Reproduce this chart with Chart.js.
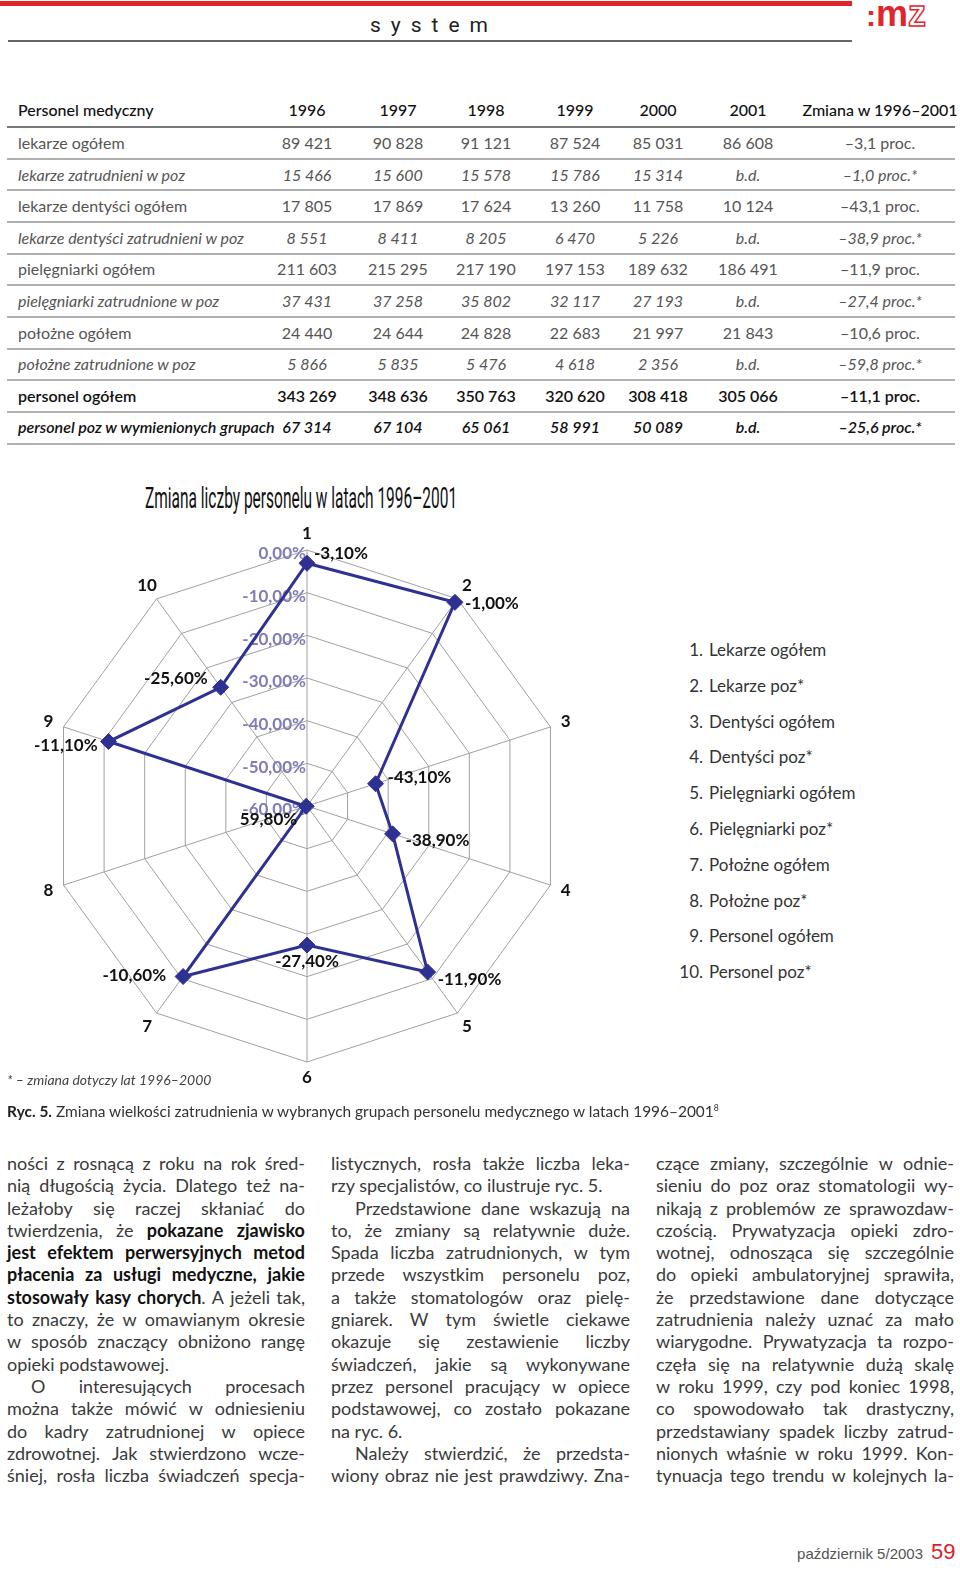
<!DOCTYPE html>
<html><head><meta charset="utf-8">
<script src="https://cdn.jsdelivr.net/npm/chart.js@4.4.1/dist/chart.umd.min.js"></script>
<style>
html,body{margin:0;padding:0;background:#fff;}
#page{position:relative;width:960px;height:1574px;overflow:hidden;font-family:Lato,"Noto Sans",sans-serif;color:#333;}
.abs{position:absolute;white-space:nowrap;}
.cell{position:absolute;white-space:nowrap;height:22px;line-height:22px;font-size:16px;}
.num{text-align:center;width:110px;}
.hl{position:absolute;left:7px;width:948px;height:2px;background:#b0b0b0;}
.col{position:absolute;top:1152px;font-size:18px;color:#3a3a3a;}
.ln{height:22.3px;line-height:22.3px;white-space:nowrap;}
.jl{display:flex;justify-content:space-between;}
.ind{padding-left:24px;}
.col b{color:#111;font-weight:700;}
.leg{position:absolute;left:670px;font-size:17px;color:#333;height:24px;line-height:24px;white-space:nowrap;}
.leg .n{display:inline-block;width:33px;text-align:right;margin-right:6px;}
</style></head>
<body><div id="page">
  <div class="abs" style="left:0;top:1px;width:852px;height:5px;background:#e2252b;"></div>
  <div class="abs" id="sys" style="left:370px;top:12px;width:118px;height:26px;display:flex;justify-content:space-between;font-family:Roboto,sans-serif;font-size:21px;color:#222;line-height:26px;"></div>
  <div class="abs" style="left:8px;top:40px;width:844px;height:2px;background:#666;"></div>
  <div class="abs" style="left:866px;top:-6px;font-family:'Liberation Sans',Arial,sans-serif;font-weight:700;font-size:36px;line-height:40px;color:#e2252b;"><span style="font-size:30px;">:</span>m<span style="color:#fff;-webkit-text-stroke:1.4px #e2252b;">z</span></div>

  <div id="table"></div>

  <div class="abs" id="title" style="left:145px;top:481px;font-family:Roboto,sans-serif;font-size:30px;line-height:34px;color:#111;transform-origin:0 0;">Zmiana liczby personelu w latach 1996–2001</div>
  <canvas id="radar" width="620" height="630" style="position:absolute;left:0;top:470px;width:620px;height:630px;"></canvas>
  <div id="legend"></div>

  <div class="abs" style="left:7px;top:1070px;font-size:14px;font-style:italic;color:#444;line-height:20px;">* – zmiana dotyczy lat 1996–2000</div>
  <div class="abs" id="caption" style="left:7px;top:1097px;font-size:16px;color:#333;line-height:22px;transform-origin:0 0;"><span style="font-weight:700;color:#222;">Ryc. 5.</span> Zmiana wielkości zatrudnienia w wybranych grupach personelu medycznego w latach 1996–2001<sup style="font-size:9px;">8</sup></div>

  <div class="col" id="c1" style="left:7px;width:298px;"></div>
  <div class="col" id="c2" style="left:331px;width:299px;"></div>
  <div class="col" id="c3" style="left:656px;width:298px;"></div>

  <div class="abs" style="right:37px;top:1544px;font-family:'Liberation Sans',Arial,sans-serif;font-size:15px;color:#555;line-height:20px;">październik 5/2003</div>
  <div class="abs" style="left:931px;top:1539px;font-family:'Liberation Sans',Arial,sans-serif;font-size:22px;color:#d71f26;line-height:26px;">59</div>
</div>
<script>
// ---------- DATA ----------
const years = ['1996','1997','1998','1999','2000','2001'];
const tableHeaderLabel = 'Personel medyczny';
const changeHeaderLabel = 'Zmiana w 1996–2001';
const rowNames = ['lekarze ogółem','lekarze zatrudnieni w poz','lekarze dentyści ogółem','lekarze dentyści zatrudnieni w poz','pielęgniarki ogółem','pielęgniarki zatrudnione w poz','położne ogółem','położne zatrudnione w poz','personel ogółem','personel poz w wymienionych grupach'];
const row1996 = ['89 421','15 466','17 805','8 551','211 603','37 431','24 440','5 866','343 269','67 314'];
const row1997 = ['90 828','15 600','17 869','8 411','215 295','37 258','24 644','5 835','348 636','67 104'];
const row1998 = ['91 121','15 578','17 624','8 205','217 190','35 802','24 828','5 476','350 763','65 061'];
const row1999 = ['87 524','15 786','13 260','6 470','197 153','32 117','22 683','4 618','320 620','58 991'];
const row2000 = ['85 031','15 314','11 758','5 226','189 632','27 193','21 997','2 356','308 418','50 089'];
const row2001 = ['86 608','b.d.','10 124','b.d.','186 491','b.d.','21 843','b.d.','305 066','b.d.'];
const rowChange = ['–3,1 proc.','–1,0 proc.*','–43,1 proc.','–38,9 proc.*','–11,9 proc.','–27,4 proc.*','–10,6 proc.','–59,8 proc.*','–11,1 proc.','–25,6 proc.*'];

const radarCategories = ['1','2','3','4','5','6','7','8','9','10'];
const legendNames = ['Lekarze ogółem','Lekarze poz*','Dentyści ogółem','Dentyści poz*','Pielęgniarki ogółem','Pielęgniarki poz*','Położne ogółem','Położne poz*','Personel ogółem','Personel poz*'];
const changeValues = [-3.1, -1.0, -43.1, -38.9, -11.9, -27.4, -10.6, -59.8, -11.1, -25.6];
const valueLabels = ['-3,10%','-1,00%','-43,10%','-38,90%','-11,90%','-27,40%','-10,60%','59,80%','-11,10%','-25,60%'];
const tickValues = [0, -10, -20, -30, -40, -50, -60];
const tickLabels = ['0,00%','-10,00%','-20,00%','-30,00%','-40,00%','-50,00%','-60,00%'];

const col1Lines = ['ności z rosnącą z roku na rok śred-','nią długością życia. Dlatego też na-','leżałoby się raczej skłaniać do','twierdzenia, że **pokazane** **zjawisko**','**jest** **efektem** **perwersyjnych** **metod**','**płacenia** **za** **usługi** **medyczne,** **jakie**','**stosowały** **kasy** **chorych**. A jeżeli tak,','to znaczy, że w omawianym okresie','w sposób znaczący obniżono rangę','<opieki podstawowej.','>O interesujących procesach','można także mówić w odniesieniu','do kadry zatrudnionej w opiece','zdrowotnej. Jak stwierdzono wcze-','śniej, rosła liczba świadczeń specja-'];
const col2Lines = ['listycznych, rosła także liczba leka-','<rzy specjalistów, co ilustruje ryc. 5.','>Przedstawione dane wskazują na','to, że zmiany są relatywnie duże.','Spada liczba zatrudnionych, w tym','przede wszystkim personelu poz,','a także stomatologów oraz pielę-','gniarek. W tym świetle ciekawe','okazuje się zestawienie liczby','świadczeń, jakie są wykonywane','przez personel pracujący w opiece','podstawowej, co zostało pokazane','<na ryc. 6.','>Należy stwierdzić, że przedsta-','wiony obraz nie jest prawdziwy. Zna-'];
const col3Lines = ['czące zmiany, szczególnie w odnie-','sieniu do poz oraz stomatologii wy-','nikają z problemów ze sprawozdaw-','czością. Prywatyzacja opieki zdro-','wotnej, odnosząca się szczególnie','do opieki ambulatoryjnej sprawiła,','że przedstawione dane dotyczące','zatrudnienia należy uznać za mało','wiarygodne. Prywatyzacja ta rozpo-','częła się na relatywnie dużą skalę','w roku 1999, czy pod koniec 1998,','co spowodowało tak drastyczny,','przedstawiany spadek liczby zatrud-','nionych właśnie w roku 1999. Kon-','tynuacja tego trendu w kolejnych la-'];

// ---------- STYLE (not data) ----------
const colCenters = [307, 398, 486, 575, 658, 748, 880];
const rowStyles = ['n','i','n','i','n','i','n','i','b','bi'];
const valueLabelPlacement = [['left',7,-10],['left',10,1],['left',12,-6],['left',13,7],['left',10,7],['center',0,16],['right',-17,-1],['right',-9,13],['right',-11,4],['right',-13,-9]];

// header letters
const sys = document.getElementById('sys');
'system'.split('').forEach(ch => { const s = document.createElement('span'); s.textContent = ch; sys.appendChild(s); });

// ---------- TABLE ----------
const tbl = document.getElementById('table');
function addCell(text, left, yc, cls, style) {
  const d = document.createElement('div');
  d.className = 'cell ' + (cls || '');
  d.style.left = left + 'px';
  d.style.top = (yc - 11) + 'px';
  Object.assign(d.style, style || {});
  d.textContent = text;
  tbl.appendChild(d);
}
const headStyle = {color:'#111', fontWeight:'500'};
addCell(tableHeaderLabel, 18, 110, '', headStyle);
years.forEach((y, j) => addCell(y, colCenters[j] - 55, 110, 'num', headStyle));
addCell(changeHeaderLabel, colCenters[6] - 80, 110, 'num', Object.assign({width:'160px'}, headStyle));
const yearCols = [row1996, row1997, row1998, row1999, row2000, row2001];
rowNames.forEach((name, i) => {
  const yc = 143 + 31.6 * i;
  const st = rowStyles[i];
  const style = {color: st.includes('b') ? '#111' : '#555', fontStyle: st.includes('i') ? 'italic' : 'normal', fontWeight: st.includes('b') ? '600' : '400'};
  addCell(name, 18, yc, '', style);
  yearCols.forEach((col, j) => addCell(col[i], colCenters[j] - 55, yc, 'num', style));
  addCell(rowChange[i], colCenters[6] - 80, yc, 'num', Object.assign({width:'160px'}, style));
});
for (let i = 0; i <= 10; i++) {
  const l = document.createElement('div');
  l.className = 'hl';
  l.style.top = (126 + 31.65 * i) + 'px';
  if (i === 0) l.style.background = '#777';
  tbl.appendChild(l);
}

// ---------- LEGEND ----------
const leg = document.getElementById('legend');
legendNames.forEach((n, i) => {
  const d = document.createElement('div');
  d.className = 'leg';
  d.style.top = (650 + 35.8 * i - 12) + 'px';
  d.innerHTML = '<span class="n">' + radarCategories[i] + '.</span>' + n;
  leg.appendChild(d);
});

// ---------- TEXT COLUMNS ----------
function fillCol(id, lines) {
  const c = document.getElementById(id);
  lines.forEach(raw => {
    let t = raw, plain = false, indent = false;
    if (t[0] === '<') { plain = true; t = t.slice(1); }
    if (t[0] === '>') { indent = true; t = t.slice(1); }
    const d = document.createElement('div');
    d.className = 'ln' + (plain ? '' : ' jl') + (indent ? ' ind' : '');
    const html = t.split(' ').map(w => '<span class="w">' + w.replace(/\*\*(.+?)\*\*/g, '<b>$1</b>') + '</span>');
    d.innerHTML = plain ? html.join(' ') : html.join('');
    c.appendChild(d);
  });
}
fillCol('c1', col1Lines); fillCol('c2', col2Lines); fillCol('c3', col3Lines);

function fitLines() {
  document.querySelectorAll('.jl').forEach(line => {
    const pl = parseFloat(getComputedStyle(line).paddingLeft) || 0;
    const W = line.clientWidth - pl;
    const spans = line.querySelectorAll('span.w');
    let sum = 0; spans.forEach(s => sum += s.getBoundingClientRect().width);
    const need = sum + 4 * (spans.length - 1);
    if (need > W) {
      const chars = line.textContent.length;
      line.style.letterSpacing = (-(need - W) / chars).toFixed(3) + 'px';
    }
  });
  const title = document.getElementById('title');
  title.style.transform = 'scaleX(' + (312 / title.getBoundingClientRect().width).toFixed(3) + ')';
  const cap = document.getElementById('caption');
  const cw = cap.getBoundingClientRect().width;
  if (cw > 712) cap.style.transform = 'scaleX(' + (712 / cw).toFixed(3) + ')';
}

// ---------- RADAR ----------
const lineColor = '#2e3192';
const radarExtras = {
  id: 'radarExtras',
  beforeDatasetsDraw(chart) {
    const ctx = chart.ctx, sc = chart.scales.r;
    ctx.save();
    ctx.font = '700 17px Lato, sans-serif';
    ctx.fillStyle = '#7f7cb8';
    ctx.textAlign = 'right';
    ctx.textBaseline = 'middle';
    tickValues.forEach((v, i) => {
      const p = sc.getPointPositionForValue(0, v);
      ctx.fillText(tickLabels[i], sc.xCenter - 1, p.y + 4);
    });
    ctx.fillStyle = '#111';
    ctx.font = '700 17px Lato, sans-serif';
    ctx.textAlign = 'center';
    radarCategories.forEach((c, i) => {
      const p = sc.getPointPosition(i, sc.drawingArea + 16);
      ctx.fillText(c, p.x, p.y);
    });
    ctx.restore();
  },
  afterDatasetsDraw(chart) {
    const ctx = chart.ctx, meta = chart.getDatasetMeta(0);
    ctx.save();
    ctx.font = '700 17px Lato, sans-serif';
    ctx.fillStyle = '#111';
    ctx.textBaseline = 'middle';
    meta.data.forEach((pt, i) => {
      const [al, dx, dy] = valueLabelPlacement[i];
      ctx.textAlign = al;
      ctx.fillText(valueLabels[i], pt.x + dx, pt.y + dy);
    });
    ctx.restore();
  }
};

function buildChart() {
  new Chart(document.getElementById('radar'), {
    type: 'radar',
    data: {
      labels: radarCategories,
      datasets: [{
        data: changeValues,
        borderColor: lineColor,
        backgroundColor: lineColor,
        borderWidth: 3,
        fill: false,
        tension: 0,
        pointStyle: 'rectRot',
        pointRadius: 8,
        pointBackgroundColor: lineColor,
        pointBorderColor: lineColor,
        pointBorderWidth: 1
      }]
    },
    options: {
      responsive: false,
      animation: false,
      devicePixelRatio: 1,
      layout: { padding: { left: 51, right: 57, top: 80, bottom: 38 } },
      plugins: { legend: { display: false }, tooltip: { enabled: false } },
      scales: {
        r: {
          min: -60, max: 0,
          ticks: { display: false, stepSize: 10 },
          pointLabels: { display: false },
          grid: { color: '#a0a0a0', lineWidth: 1 },
          angleLines: { color: '#a0a0a0', lineWidth: 1 }
        }
      }
    },
    plugins: [radarExtras]
  });
}

Promise.all([
  document.fonts.load('700 16px Lato'),
  document.fonts.load('400 18px Lato'),
  document.fonts.load('400 30px Roboto')
]).catch(() => {}).then(() => document.fonts.ready).then(() => { fitLines(); buildChart(); });
</script>
</body></html>
